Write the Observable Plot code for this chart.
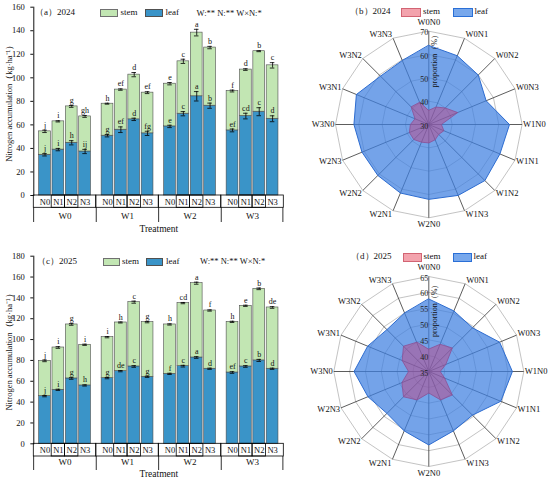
<!DOCTYPE html>
<html><head><meta charset="utf-8">
<script src="https://cdn.jsdelivr.net/npm/d3@7"></script>
<script src="https://cdn.jsdelivr.net/npm/@observablehq/plot@0.6"></script>
<style>
body{margin:0;background:#fff;}
#wrap{position:relative;width:550px;height:480px;overflow:hidden;font-family:"Liberation Serif","Times New Roman",serif;color:#111;}
.panel{position:absolute;}
.lg{position:absolute;white-space:nowrap;z-index:2;}
.sw{position:absolute;box-sizing:border-box;z-index:2;}
</style></head><body><div id="wrap"></div>
<script>
// ---------- categories ----------
const groups = ["W0","W1","W2","W3"];
const levels = ["N0","N1","N2","N3"];
const names = ["W0N0","W0N1","W0N2","W0N3","W1N0","W1N1","W1N2","W1N3","W2N0","W2N1","W2N2","W2N3","W3N0","W3N1","W3N2","W3N3"];

// ---------- 2024 nitrogen accumulation (kg/ha) ----------
const leaf24 = [34.6, 39.0, 44.8, 37.4, 50.8, 55.9, 64.7, 52.8, 58.7, 69.5, 84.3, 76.3, 55.3, 67.5, 71.2, 65.2];
const stem24 = [19.9, 24.0, 30.9, 29.8, 27.2, 34.1, 38.0, 34.6, 36.3, 44.5, 54.1, 49.4, 33.5, 39.5, 51.4, 45.4];
const errLeaf24 = [1.0, 1.0, 1.8, 1.8, 1.0, 2.4, 1.0, 1.8, 1.0, 1.8, 4.0, 2.2, 1.2, 2.4, 3.4, 2.5];
const errTotal24 = [1.0, 0.5, 0.8, 0.8, 0.4, 0.6, 1.8, 0.8, 1.0, 1.8, 2.8, 1.0, 0.8, 0.7, 0.4, 2.3];
const letLeaf24 = ["j","i","h","ij","g","ef","d","fg","e","c","a","b","ef","cd","c","d"];
const letTotal24 = ["j","i","g","gh","h","ef","d","ef","e","c","a","b","f","d","b","c"];

// ---------- 2025 nitrogen accumulation (kg/ha) ----------
const leaf25 = [45.7, 51.8, 62.7, 56.0, 63.0, 69.7, 74.2, 64.3, 67.1, 74.5, 82.8, 72.0, 68.4, 74.2, 80.0, 72.0];
const stem25 = [33.9, 40.6, 51.8, 39.0, 39.3, 46.7, 61.7, 52.4, 47.4, 60.5, 71.3, 55.9, 48.6, 58.2, 68.7, 58.8];
const errLeaf25 = [0.6, 0.6, 0.8, 0.6, 0.6, 0.6, 0.8, 0.6, 0.6, 0.8, 0.8, 0.6, 0.8, 0.8, 1.0, 0.6];
const errTotal25 = [0.8, 0.8, 0.8, 0.6, 0.6, 0.5, 1.0, 0.6, 0.6, 0.6, 1.0, 0.6, 0.6, 0.6, 0.8, 0.8];
const letLeaf25 = ["j","i","g","h","g","de","c","g","f","c","a","d","ef","c","b","d"];
const letTotal25 = ["j","i","g","i","i","h","c","g","h","cd","a","f","h","e","b","de"];

// ---------- proportions (%) ----------
const leafP24 = [63.9, 61.9, 60.0, 56.6, 64.6, 63.0, 64.0, 62.9, 62.1, 61.8, 60.9, 61.0, 62.1, 63.6, 59.3, 59.7];
const stemP24 = [36.1, 38.1, 40.0, 43.4, 35.4, 37.0, 36.0, 37.1, 37.9, 38.2, 39.1, 39.0, 37.9, 36.4, 40.7, 40.3];
const leafP25 = [57.9, 55.7, 54.5, 59.2, 61.4, 59.6, 54.5, 55.3, 58.2, 55.3, 53.7, 55.8, 58.6, 55.9, 53.7, 55.0];
const stemP25 = [42.1, 44.3, 45.5, 40.8, 38.6, 40.4, 45.5, 44.7, 41.8, 44.7, 46.3, 44.2, 41.4, 44.1, 46.3, 45.0];
const ticks24 = [30, 40, 50, 60, 70];
const ticks25 = [35, 40, 45, 50, 55, 60, 65];

const FONT = '"Liberation Serif","Times New Roman",serif';
const leafC = "#3a94c8", stemC = "#c2e6b3";
const wrap = document.getElementById("wrap");

function place(el, left, top) {
  const d = document.createElement("div");
  d.className = "panel"; d.style.left = left + "px"; d.style.top = top + "px";
  d.appendChild(el); wrap.appendChild(d);
}
function lg(text, x, yc, size) {
  const d = document.createElement("div");
  d.className = "lg"; d.textContent = text;
  d.style.left = x + "px"; d.style.top = (yc - size * 0.55) + "px";
  d.style.fontSize = size + "px"; d.style.lineHeight = size + "px";
  wrap.appendChild(d);
}
function sw(x, y, w, h, fill, border) {
  const d = document.createElement("div");
  d.className = "sw";
  Object.assign(d.style, {left: x + "px", top: y + "px", width: w + "px", height: h + "px", background: fill, border: "0.8px solid " + border});
  wrap.appendChild(d);
}

function barPanel(o) {
  const W = 290, H = 240, mL = 33.3, mR = 6.7;
  const rows = [], pts = [];
  groups.forEach((w, gi) => levels.forEach((n, ni) => {
    const i = gi * 4 + ni;
    rows.push({W: w, N: n, part: "leaf", value: o.leaf[i]});
    rows.push({W: w, N: n, part: "stem", value: o.stem[i]});
    pts.push({W: w, N: n, leaf: o.leaf[i], total: o.leaf[i] + o.stem[i], eL: o.errLeaf[i], eT: o.errTotal[i], lL: o.letLeaf[i], lT: o.letTotal[i]});
  }));
  const innerH = H - o.mT - o.mB;
  const u = o.yMax / innerH;
  const hN = o.nRow * u, hW = o.wRow * u;
  const facetW = (W - mL - mR) / 4;
  const cap = 3.6;
  return Plot.plot({
    width: W, height: H, marginLeft: mL, marginRight: mR, marginTop: o.mT, marginBottom: o.mB,
    style: {fontFamily: FONT, fontSize: "8.5px", color: "#111", background: "transparent", overflow: "visible"},
    fx: {domain: groups, padding: 0, axis: null, round: false},
    x: {domain: levels, paddingInner: 0.12, paddingOuter: 0.4, axis: null, round: false},
    y: {domain: [0, o.yMax], ticks: o.yMax / 20, tickSize: 3, line: true, label: "Nitrogen accumulation（kg·ha⁻¹）", labelAnchor: "center", labelOffset: 28, labelArrow: "none"},
    color: {domain: ["leaf", "stem"], range: [leafC, stemC]},
    marks: [
      Plot.barY(rows, Plot.stackY({fx: "W", x: "N", y: "value", fill: "part", stroke: "#4d4d4d", strokeWidth: 0.6})),
      // error bars
      Plot.ruleX(pts, {fx: "W", x: "N", y1: d => d.total - d.eT, y2: d => d.total + d.eT, stroke: "#000", strokeWidth: 0.8}),
      Plot.tickY(pts, {fx: "W", x: "N", y: d => d.total + d.eT, stroke: "#000", strokeWidth: 0.8, insetLeft: cap, insetRight: cap}),
      Plot.tickY(pts, {fx: "W", x: "N", y: d => d.total - d.eT, stroke: "#000", strokeWidth: 0.8, insetLeft: cap, insetRight: cap}),
      Plot.ruleX(pts, {fx: "W", x: "N", y1: d => d.leaf - d.eL, y2: d => d.leaf + d.eL, stroke: "#000", strokeWidth: 0.8}),
      Plot.tickY(pts, {fx: "W", x: "N", y: d => d.leaf + d.eL, stroke: "#000", strokeWidth: 0.8, insetLeft: cap, insetRight: cap}),
      Plot.tickY(pts, {fx: "W", x: "N", y: d => d.leaf - d.eL, stroke: "#000", strokeWidth: 0.8, insetLeft: cap, insetRight: cap}),
      // significance letters
      Plot.text(pts, {fx: "W", x: "N", y: d => d.total + d.eT, dy: -5, text: "lT", fontSize: 8, fill: "#111"}),
      Plot.text(pts, {fx: "W", x: "N", y: d => d.leaf + d.eL, dy: -5, text: "lL", fontSize: 8, fill: "#111"}),
      // N row boxes
      Plot.rect([0], {y1: 0, y2: -hN, fill: "none", stroke: "#000", strokeWidth: 0.8}),
      Plot.barY(pts.filter(d => d.N === "N1" || d.N === "N2"), {fx: "W", x: "N", y1: 0, y2: -hN, fill: "none", stroke: "#000", strokeWidth: 0.8, insetLeft: -0.8, insetRight: -0.8}),
      Plot.text(pts, {fx: "W", x: "N", y: 0, dy: o.nText, text: "N", fontSize: 8.5, fill: "#111"}),
      // W group separators
      Plot.rect([0], {y1: -hN, y2: -hN - hW, fill: "#000", insetRight: facetW - 0.8}),
      Plot.rect([{W: "W3"}], {fx: "W", y1: -hN, y2: -hN - hW, fill: "#000", insetLeft: facetW - 0.8}),
      Plot.text(groups.map(w => ({W: w})), {fx: "W", text: "W", frameAnchor: "bottom", lineAnchor: "middle", dy: o.wText, fontSize: 9, fill: "#111"}),
      Plot.text([{W: "W1"}], {fx: "W", text: () => "Treatment", frameAnchor: "bottom-right", lineAnchor: "middle", textAnchor: "middle", dy: o.tText, fontSize: 9.5, fill: "#111"})
    ]
  });
}

function radarPanel(o) {
  const W = 260, H = 240, R = o.R;
  const n = names.length;
  const rr = v => (v - o.rMin) / (o.rMax - o.rMin);
  const ang = i => i * 2 * Math.PI / n;
  const pt = (r, i) => ({x: r * Math.sin(ang(i)), y: r * Math.cos(ang(i))});
  const leafPts = o.leafP.map((v, i) => ({name: names[i], v, ...pt(rr(v), i)}));
  const stemPts = o.stemP.map((v, i) => ({name: names[i], v, ...pt(rr(v), i)}));
  const rings = o.ticks.filter(t => t > o.rMin).flatMap(t => names.map((nm, i) => ({t, ...pt(rr(t), i)})));
  const spokes = names.map((nm, i) => ({name: nm, ...pt(1, i)}));
  const labs = names.map((nm, i) => {
    const s = Math.sin(ang(i)), c = Math.cos(ang(i));
    const off = (Math.abs(s) < 0.05 ? (c > 0 ? 9 : 6.5) : 4) / R;
    return {name: nm, s, x: s, y: c * (1 + off)};
  });
  return Plot.plot({
    width: W, height: H, marginLeft: o.mL, marginRight: W - o.mL - 2 * R, marginTop: o.mT, marginBottom: H - o.mT - 2 * R,
    style: {fontFamily: FONT, fontSize: "8.5px", color: "#111", background: "transparent", overflow: "visible"},
    x: {domain: [-1, 1], axis: null},
    y: {domain: [-1, 1], axis: null},
    marks: [
      Plot.line(rings, {x: "x", y: "y", z: "t", curve: "linear-closed", stroke: "#b4b4b4", strokeWidth: 0.8}),
      Plot.link(spokes, {x1: 0, y1: 0, x2: "x", y2: "y", stroke: "#333", strokeWidth: 0.8}),
      Plot.line(leafPts, {x: "x", y: "y", curve: "linear-closed", fill: "#3f80e0", fillOpacity: 0.72, stroke: "#2d6cd0", strokeWidth: 1}),
      Plot.line(stemPts, {x: "x", y: "y", curve: "linear-closed", fill: "#c83c78", fillOpacity: 0.45, stroke: "#8a4f95", strokeWidth: 0.8}),
      Plot.text(labs.filter(d => d.s > 0.05), {x: "x", y: "y", text: "name", textAnchor: "start", dx: 1, fontSize: 8.5, fill: "#111"}),
      Plot.text(labs.filter(d => d.s < -0.05), {x: "x", y: "y", text: "name", textAnchor: "end", dx: -1, fontSize: 8.5, fill: "#111"}),
      Plot.text(labs.filter(d => Math.abs(d.s) <= 0.05), {x: "x", y: "y", text: "name", textAnchor: "middle", fontSize: 8.5, fill: "#111"}),
      Plot.text(o.ticks, {x: 0, y: t => rr(t), dy: 1.5, text: t => String(t), textAnchor: "end", dx: -0.5, fontSize: 8, fill: "#222"}),
      Plot.text(["proportion（%）"], {x: 0, y: o.labY, text: d => d, rotate: -90, dx: 5.5, fontSize: 8, fill: "#111"})
    ]
  });
}

// Panel (a)
place(barPanel({leaf: leaf24, stem: stem24, errLeaf: errLeaf24, errTotal: errTotal24, letLeaf: letLeaf24, letTotal: letTotal24,
  yMax: 160, mT: 6.7, mB: 45, nRow: 12.3, wRow: 14.7, nText: 6.5, wText: 21, tText: 33}), 0, 0);
// Panel (c)
place(barPanel({leaf: leaf25, stem: stem25, errLeaf: errLeaf25, errTotal: errTotal25, letLeaf: letLeaf25, letTotal: letTotal25,
  yMax: 180, mT: 15.7, mB: 36.7, nRow: 12.7, wRow: 14, nText: 6.7, wText: 18.4, tText: 30}), 0, 240);
// Panel (b)
place(radarPanel({leafP: leafP24, stemP: stemP24, rMin: 30, rMax: 70, ticks: ticks24, R: 93.3, mL: 45, mT: 30.7, labY: 0.7}), 290, 0);
// Panel (d)
place(radarPanel({leafP: leafP25, stemP: stemP25, rMin: 35, rMax: 65, ticks: ticks25, R: 95, mL: 43.3, mT: 36, labY: 0.66}), 290, 240);

// Legends (a)
lg("（a）2024", 35, 13.3, 9);
sw(100, 9, 18, 8, stemC, "#707070"); lg("stem", 120.5, 13.3, 9);
sw(145.3, 9, 18, 8, leafC, "#505050"); lg("leaf", 165.5, 13.3, 9);
lg("W:** N:** W×N:*", 196.5, 13.3, 8.5);
// Legends (c)
lg("（c）2025", 37, 262, 9);
sw(102.7, 258, 17.5, 8, stemC, "#707070"); lg("stem", 122, 262, 9);
sw(145.7, 258, 17.5, 8, leafC, "#505050"); lg("leaf", 166, 262, 9);
lg("W:** N:** W×N:*", 200, 262, 8.5);
// Legends (b)
lg("（b）2024", 350, 12, 9);
sw(401, 7.5, 19.7, 9, "#f3a3ad", "#d26473"); lg("stem", 423, 12, 9);
sw(453.3, 7.5, 19.4, 9, "#78a8ec", "#2a6fd6"); lg("leaf", 474.5, 12, 9);
// Legends (d)
lg("（d）2025", 351, 257.3, 9);
sw(403.3, 253, 18.4, 9, "#f3a3ad", "#d26473"); lg("stem", 423.5, 257.3, 9);
sw(453.3, 253, 18.4, 9, "#78a8ec", "#2a6fd6"); lg("leaf", 473.5, 257.3, 9);
</script></body></html>
